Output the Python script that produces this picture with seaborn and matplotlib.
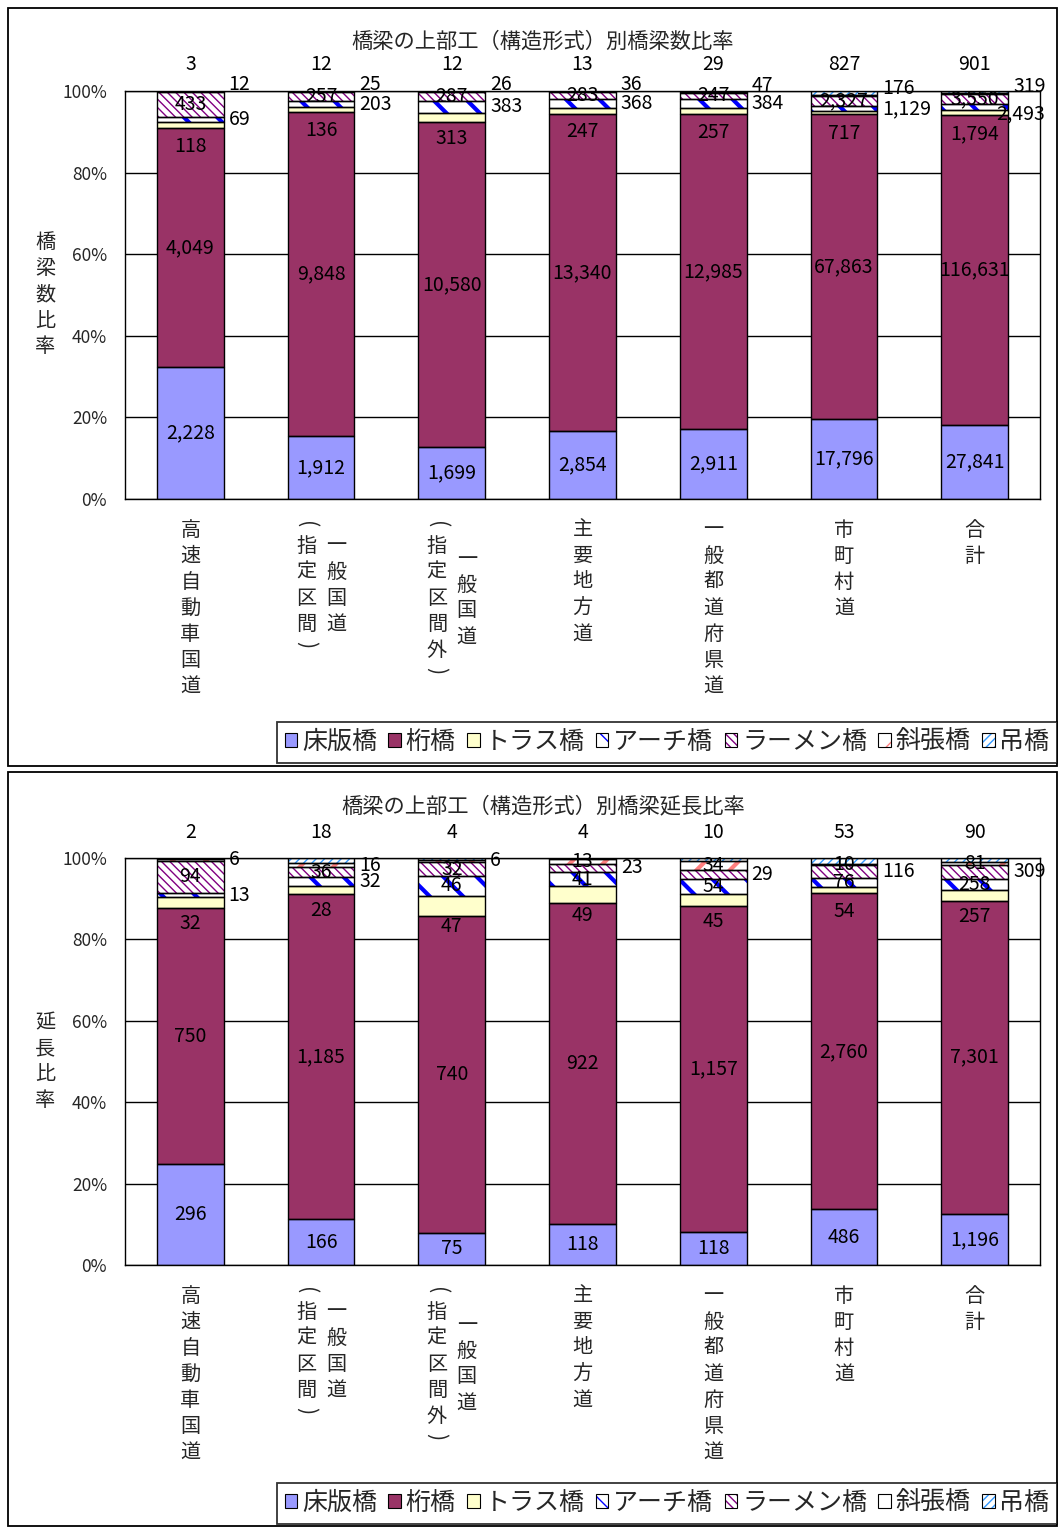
import numpy as np
import pandas as pd
import matplotlib
matplotlib.use("Agg")
import matplotlib.pyplot as plt
import seaborn as sns
from matplotlib.patches import Patch, Rectangle
from matplotlib.legend_handler import HandlerTuple

# ---------------- data ----------------
categories = ["高速自動車国道", "一般国道（指定区間）", "一般国道（指定区間外）",
              "主要地方道", "一般都道府県道", "市町村道", "合計"]
types = ["床版橋", "桁橋", "トラス橋", "アーチ橋", "ラーメン橋", "斜張橋", "吊橋"]

count_slab = [2228, 1912, 1699, 2854, 2911, 17796, 27841]
count_girder = [4049, 9848, 10580, 13340, 12985, 67863, 116631]
count_truss = [118, 136, 313, 247, 257, 717, 1794]
count_arch = [69, 203, 383, 368, 384, 1129, 2493]
count_rahmen = [433, 257, 287, 283, 247, 2327, 3550]
count_cable = [12, 25, 26, 36, 47, 176, 319]
count_susp = [3, 12, 12, 13, 29, 827, 901]

length_slab = [296, 166, 75, 118, 118, 486, 1196]
length_girder = [750, 1185, 740, 922, 1157, 2760, 7301]
length_truss = [32, 28, 47, 49, 45, 54, 257]
length_arch = [13, 32, 46, 41, 54, 76, 258]
length_rahmen = [94, 36, 32, 23, 29, 116, 309]
length_cable = [6, 16, 6, 13, 34, 10, 81]
length_susp = [2, 18, 4, 4, 10, 53, 90]

titles = ["橋梁の上部工（構造形式）別橋梁数比率", "橋梁の上部工（構造形式）別橋梁延長比率"]
ylabels = ["橋梁数比率", "延長比率"]
ytick_values = [0, 20, 40, 60, 80, 100]

# ---------------- style ----------------
sns.set_style("white")
plt.rcParams["font.family"] = ["Noto Sans CJK JP", "DejaVu Sans"]

W, H = 1059, 1528
PX = 72.0 / 100.0  # points per pixel at dpi=100
BAR_W = 0.51

STYLE = {
    "床版橋": dict(face="#9999FF", hatch=None, hcolor="#9999FF", hlw=1.0),
    "桁橋": dict(face="#993366", hatch=None, hcolor="#993366", hlw=1.0),
    "トラス橋": dict(face="#FFFFCC", hatch=None, hcolor="#FFFFCC", hlw=1.0),
    "アーチ橋": dict(face="white", hatch="\\", hcolor="#0000FF", hlw=3.0),
    "ラーメン橋": dict(face="white", hatch="\\\\\\\\", hcolor="#800080", hlw=1.0),
    "斜張橋": dict(face="white", hatch="/", hcolor="#FF8080", hlw=3.0),
    "吊橋": dict(face="white", hatch="////", hcolor="#3399FF", hlw=1.0),
}

n = len(categories)
PLACE_COUNT = {
    "床版橋": ["center"] * n, "桁橋": ["center"] * n, "トラス橋": ["below"] * n,
    "アーチ橋": ["right"] * n, "ラーメン橋": ["center"] * n,
    "斜張橋": ["right_up"] * n, "吊橋": ["above"] * n,
}
PLACE_LENGTH = {
    "床版橋": ["center"] * n, "桁橋": ["center"] * n, "トラス橋": ["below"] * n,
    "アーチ橋": ["right", "right"] + ["center"] * 5,
    "ラーメン橋": ["center"] * 3 + ["right"] * 4,
    "斜張橋": ["right"] * 3 + ["center"] * 4, "吊橋": ["above"] * n,
}
# extra pixel shifts for individual labels (dx, dy) in pixels
SHIFT_COUNT = {(6, "アーチ橋"): (-17, -7)}
SHIFT_LENGTH = {}

fig = plt.figure(figsize=(W / 100, H / 100), dpi=100)

LABEL_FS = 14
TICK_FS = 12.5
CAT_FS = 14.5
LEG_FS = 18


def draw_chart(ax, series, place, shifts):
    vals = {t: np.asarray(v, dtype=float) for t, v in zip(types, series)}
    totals = sum(vals.values())
    bottoms = np.zeros(n)
    label_jobs = []
    for t in types:
        pct = vals[t] / totals * 100.0
        st = STYLE[t]
        n0 = len(ax.patches)
        with plt.rc_context({"hatch.linewidth": st["hlw"]}):
            sns.barplot(x=categories, y=pct, bottom=bottoms.copy(), width=BAR_W,
                        color=st["face"], saturation=1, errorbar=None, ax=ax,
                        linewidth=0, edgecolor=st["hcolor"], hatch=st["hatch"], zorder=2)
        for p in ax.patches[n0:]:
            p.set_facecolor(st["face"])
            p.set_edgecolor(st["hcolor"])
            p.set_linewidth(0)
            p.set_hatch(st["hatch"])
            try:
                p.set_hatch_linewidth(st["hlw"])
            except AttributeError:
                pass
        n1 = len(ax.patches)
        sns.barplot(x=categories, y=pct, bottom=bottoms.copy(), width=BAR_W,
                    color="white", saturation=1, errorbar=None, ax=ax,
                    linewidth=1.0, zorder=3)
        for p in ax.patches[n1:]:
            p.set_facecolor("none")
            p.set_edgecolor("black")
            p.set_linewidth(1.0)
        for i in range(n):
            label_jobs.append((i, t, vals[t][i], bottoms[i] + pct[i] / 2.0))
        bottoms = bottoms + pct

    for i, t, v, cy in label_jobs:
        mode = place[t][i]
        sx, sy = shifts.get((i, t), (0, 0))
        if mode == "center":
            xy, off, ha = (i, cy), (0, 0), "center"
        elif mode == "below":
            xy, off, ha = (i, cy), (0, -21), "center"
        elif mode == "right":
            xy, off, ha = (i + BAR_W / 2, cy), (5, 0), "left"
        elif mode == "right_up":
            xy, off, ha = (i + BAR_W / 2, cy), (5, 7), "left"
        else:  # above
            xy, off, ha = (i, 100), (0, 26), "center"
        ax.annotate(f"{int(v):,}", xy=xy,
                    xytext=((off[0] + sx) * PX, (off[1] + sy) * PX),
                    textcoords="offset points", ha=ha, va="center",
                    fontsize=LABEL_FS, color="black", zorder=6,
                    annotation_clip=False)

    # axes cosmetics
    ax.set_xlim(-0.5, n - 0.5)
    ax.set_ylim(0, 100)
    ax.set_yticks(ytick_values)
    ax.set_yticklabels([f"{v}%" for v in ytick_values], fontsize=TICK_FS)
    ax.tick_params(axis="y", length=0, pad=18 * PX)
    ax.yaxis.grid(True, color="black", linewidth=1.0)
    ax.xaxis.grid(False)
    ax.set_axisbelow(True)
    ax.set_xticks(np.arange(0.5, n - 0.5, 1.0), minor=True)
    ax.tick_params(axis="x", which="major", length=0, labelbottom=False)
    ax.tick_params(axis="x", which="minor", length=6, width=1, color="black",
                   direction="out")
    ax.set_xlabel("")
    ax.set_ylabel("")
    for s in ax.spines.values():
        s.set_visible(True)
        s.set_color("black")
        s.set_linewidth(1.0)

    # vertical category labels (vertical writing, rightmost column first);
    # parentheses are turned to their vertical form by rotation
    pmap = {"（": "(", "）": ")"}

    def step(ch):
        return 16 if ch in pmap else 26

    for i, name in enumerate(categories):
        if "（" in name:
            head, tail = name.split("（", 1)
            cols = [head, "（" + tail]
            dxs = [15, -15]
        else:
            cols = [name]
            dxs = [0]
        heights = [sum(step(c) for c in col) for col in cols]
        hmax = max(heights)
        for col, dx, h in zip(cols, dxs, heights):
            y = -(18 + (hmax - h) / 2.0)
            for ch in col:
                s = step(ch)
                yc = y - s / 2.0
                if ch in pmap:
                    txt, rot, fs = pmap[ch], -90, CAT_FS + 1
                else:
                    txt, rot, fs = ch, 0, CAT_FS
                ax.annotate(txt, xy=(i, 0), xycoords=("data", "axes fraction"),
                            xytext=(dx * PX, yc * PX), textcoords="offset points",
                            ha="center", va="center", rotation=rot,
                            fontsize=fs, annotation_clip=False)
                y -= s


def draw_ylabel(ax, text):
    k = len(text)
    for j, ch in enumerate(text):
        yc = ((k - 1) / 2.0 - j) * 26
        ax.annotate(ch, xy=(0, 0.5), xycoords="axes fraction",
                    xytext=(-80 * PX, yc * PX), textcoords="offset points",
                    ha="center", va="center", fontsize=CAT_FS, annotation_clip=False)


def legend_handles():
    hs = []
    for t in types:
        st = STYLE[t]
        with plt.rc_context({"hatch.linewidth": min(st["hlw"], 1.5)}):
            fillp = Patch(facecolor=st["face"], edgecolor=st["hcolor"], hatch=st["hatch"], linewidth=0)
        outp = Patch(facecolor="none", edgecolor="black", linewidth=0.8)
        hs.append((fillp, outp))
    return hs


def add_frame(y0, y1):
    fig.add_artist(Rectangle((8 / W, 1 - y1 / H), (1057 - 8) / W, (y1 - y0) / H,
                             transform=fig.transFigure, fill=False,
                             edgecolor="black", linewidth=1.3))


panels = [
    dict(series=[count_slab, count_girder, count_truss, count_arch, count_rahmen, count_cable, count_susp],
         place=PLACE_COUNT, shift=SHIFT_COUNT, top=91, bottom=499, title_y=42, leg_y=742,
         frame=(8, 766)),
    dict(series=[length_slab, length_girder, length_truss, length_arch, length_rahmen, length_cable, length_susp],
         place=PLACE_LENGTH, shift=SHIFT_LENGTH, top=858, bottom=1265, title_y=806, leg_y=1503,
         frame=(772, 1526)),
]

for k, pnl in enumerate(panels):
    ax = fig.add_axes([125 / W, 1 - pnl["bottom"] / H, 915 / W, (pnl["bottom"] - pnl["top"]) / H])
    draw_chart(ax, pnl["series"], pnl["place"], pnl["shift"])
    draw_ylabel(ax, ylabels[k])
    fig.text(543 / W, 1 - pnl["title_y"] / H, titles[k], ha="center", va="center", fontsize=15.3)
    add_frame(*pnl["frame"])
    leg = fig.legend(legend_handles(), types, loc="center right",
                     bbox_to_anchor=(1057 / W, 1 - pnl["leg_y"] / H),
                     ncol=7, frameon=True, fancybox=False, edgecolor="black",
                     fontsize=LEG_FS, handlelength=0.5, handleheight=0.5,
                     handletextpad=0.2, columnspacing=0.45, borderpad=0.3,
                     borderaxespad=0, handler_map={tuple: HandlerTuple(ndivide=1, pad=0)})
    leg.get_frame().set_linewidth(1.3)
    leg.set_zorder(10)

fig.savefig("out.png", dpi=100)
